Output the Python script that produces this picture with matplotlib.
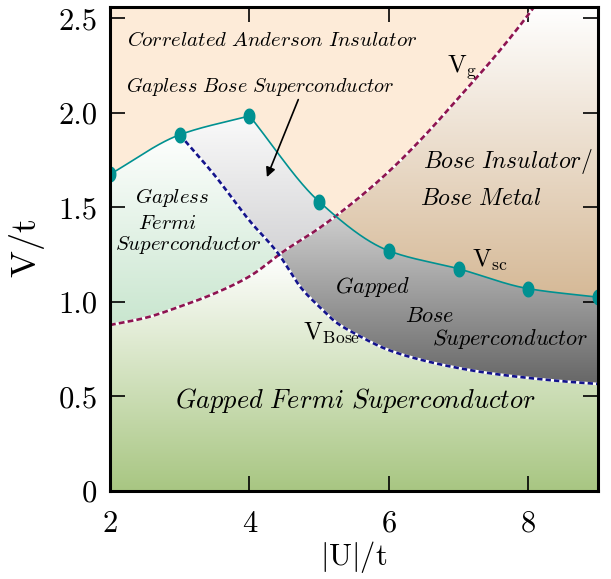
import numpy as np
import matplotlib
matplotlib.use("Agg")
import matplotlib.pyplot as plt
from matplotlib.patches import Polygon
from matplotlib.path import Path

plt.rcParams["mathtext.fontset"] = "cm"
plt.rcParams["font.family"] = ["cmr10", "DejaVu Sans"]
plt.rcParams["axes.unicode_minus"] = False

# ---- data -------------------------------------------------------------
# superconducting boundary V_sc (computed points)
vsc_x = [2, 3, 4, 5, 6, 7, 8, 9]
vsc_y = [1.675, 1.884, 1.984, 1.530, 1.270, 1.175, 1.070, 1.025]

# gap-closing line V_g
vg_x = [2.0, 2.5, 3.0, 3.5, 4.0, 4.5, 5.0, 5.5, 6.0, 6.5, 7.0, 7.5, 8.0, 8.1]
vg_y = [0.878, 0.915, 0.975, 1.045, 1.135, 1.270, 1.390, 1.530, 1.690, 1.875, 2.080, 2.290, 2.520, 2.570]

# Bose line V_Bose
vb_x = [3.0, 3.5, 4.0, 4.4, 4.75, 5.0, 5.25, 5.5, 6.0, 6.5, 7.0, 7.5, 8.0, 8.5, 9.0]
vb_y = [1.884, 1.670, 1.430, 1.262, 1.070, 0.975, 0.890, 0.835, 0.745, 0.690, 0.650, 0.620, 0.598, 0.580, 0.566]

xticks = [2, 4, 6, 8]
yticks = [0, 0.5, 1.0, 1.5, 2.0, 2.5]
yticklabels = ["0", "0.5", "1.0", "1.5", "2.0", "2.5"]

XMIN, XMAX, YMIN, YMAX = 2.0, 9.0, 0.0, 2.56


def pchip(x, y, xn):
    """Shape-preserving piecewise cubic through (x, y), evaluated at xn."""
    x = np.asarray(x, float)
    y = np.asarray(y, float)
    xn = np.asarray(xn, float)
    h = np.diff(x)
    d = np.diff(y) / h
    m = np.zeros_like(y)
    for k in range(1, len(x) - 1):
        if d[k - 1] * d[k] > 0:
            w1 = 2 * h[k] + h[k - 1]
            w2 = h[k] + 2 * h[k - 1]
            m[k] = (w1 + w2) / (w1 / d[k - 1] + w2 / d[k])
    m[0] = d[0]
    m[-1] = d[-1]
    idx = np.clip(np.searchsorted(x, xn) - 1, 0, len(x) - 2)
    t = (xn - x[idx]) / h[idx]
    h00 = 2 * t**3 - 3 * t**2 + 1
    h10 = t**3 - 2 * t**2 + t
    h01 = -2 * t**3 + 3 * t**2
    h11 = t**3 - t**2
    return h00 * y[idx] + h10 * h[idx] * m[idx] + h01 * y[idx + 1] + h11 * h[idx] * m[idx + 1]


def sc_curve(xn):
    """V_sc drawn as two smooth branches meeting at its maximum."""
    k = int(np.argmax(vsc_y))
    left = pchip(vsc_x[:k + 1], vsc_y[:k + 1], xn)
    right = pchip(vsc_x[k:], vsc_y[k:], xn)
    return np.where(xn <= vsc_x[k], left, right)


# ---- smooth boundaries on a common grid ---------------------------------
xs = np.linspace(XMIN, XMAX, 1401)
vsc_s = sc_curve(xs)
vg_s = np.where(xs <= vg_x[-1], pchip(vg_x, vg_y, np.minimum(xs, vg_x[-1])), YMAX + 0.2)
vg_s = np.minimum(vg_s, YMAX + 0.2)
vb_s = np.where(xs >= vb_x[0], pchip(vb_x, vb_y, np.maximum(xs, vb_x[0])), vsc_s)

# ---- figure -----------------------------------------------------------
fig = plt.figure(figsize=(6.11, 5.79), dpi=100)
ax = fig.add_axes([0.180, 0.152, 0.799, 0.836])
ax.set_xlim(XMIN, XMAX)
ax.set_ylim(YMIN, YMAX)
ax.set_facecolor("#fdebd8")


def shade(lower, upper, stops):
    """Fill the band lower<y<upper with a vertical colour gradient."""
    mask = upper > lower + 1e-6
    xm = xs[mask]
    verts = np.concatenate([np.column_stack([xm, upper[mask]]),
                            np.column_stack([xm[::-1], lower[mask][::-1]])])
    poly = Polygon(verts, closed=True, transform=ax.transData,
                   facecolor="none", edgecolor="none")
    ax.add_patch(poly)
    yy = np.linspace(YMAX, YMIN, 400)
    sy = [s[0] for s in stops]
    cols = np.array([matplotlib.colors.to_rgb(s[1]) for s in stops])
    img = np.stack([np.interp(yy, sy, cols[:, c]) for c in range(3)], axis=-1)
    img = img[:, None, :]
    im = ax.imshow(img, extent=[XMIN, XMAX, YMIN, YMAX], aspect="auto",
                   origin="upper", interpolation="bilinear", zorder=0.5)
    im.set_clip_path(poly)


zero = np.zeros_like(xs)
top = np.full_like(xs, YMAX + 0.2)

# Gapped Fermi superconductor
shade(zero, np.minimum(vb_s, vg_s), [(0.0, "#a8c682"), (1.25, "#ffffff")])
# Gapless Fermi superconductor
shade(vg_s, vb_s, [(0.88, "#c9e6cf"), (1.9, "#ffffff")])
# Gapped Bose superconductor
shade(vb_s, np.minimum(vsc_s, vg_s), [(0.56, "#666666"), (1.47, "#cfcfcf")])
# Gapless Bose superconductor
shade(np.maximum(vb_s, vg_s), vsc_s, [(1.25, "#d4d4d6"), (2.0, "#fbfbfb")])
# Bose insulator / Bose metal
shade(vsc_s, np.minimum(vg_s, top), [(1.0, "#d5b895"), (2.56, "#ffffff")])

# ---- boundary lines ---------------------------------------------------
vg_line = pchip(vg_x, vg_y, xs[xs <= vg_x[-1]])
ax.plot(xs[xs <= vg_x[-1]], vg_line, color="white", lw=1.9, zorder=2)
ax.plot(xs[xs <= vg_x[-1]], vg_line, color="#8e1450", lw=1.9,
        dashes=(2.2, 1.2), zorder=2.1)

vb_line = pchip(vb_x, vb_y, xs[xs >= vb_x[0]])
ax.plot(xs[xs >= vb_x[0]], vb_line, color="white", lw=1.9, zorder=2)
ax.plot(xs[xs >= vb_x[0]], vb_line, color="#14148c", lw=1.9,
        dashes=(2.0, 1.2), zorder=2.1)

t = np.linspace(0, 2 * np.pi, 60)
ellipse = Path(np.column_stack([np.cos(t), 1.38 * np.sin(t)]))
ax.plot(xs, vsc_s, color="#009191", lw=1.2, zorder=3)
ax.plot(vsc_x, vsc_y, ls="none", marker=ellipse, ms=10.5,
        color="#009191", zorder=3.1)

# ---- annotations ------------------------------------------------------
def it(s):
    return r"$\mathit{" + s.replace(" ", r"\ ") + "}$"


ax.text(4.33, 2.385, it("Correlated Anderson Insulator"), fontsize=15,
        ha="center", va="center")
ax.text(4.15, 2.14, it("Gapless Bose Superconductor"), fontsize=14.5,
        ha="center", va="center")
ax.annotate("", xy=(4.25, 1.66), xytext=(4.70, 2.07),
            arrowprops=dict(arrowstyle="-|>", color="black", lw=1.2,
                            mutation_scale=14, shrinkA=0, shrinkB=0))

ax.text(6.49, 1.709, it("Bose Insulator/"), fontsize=17, ha="left", va="baseline")
ax.text(6.45, 1.513, it("Bose Metal"), fontsize=17, ha="left", va="baseline")

ax.text(2.89, 1.524, it("Gapless"), fontsize=15, ha="center", va="baseline")
ax.text(2.83, 1.386, it("Fermi"), fontsize=15, ha="center", va="baseline")
ax.text(3.12, 1.275, it("Superconductor"), fontsize=15, ha="center", va="baseline")

ax.text(5.23, 1.048, it("Gapped"), fontsize=16, ha="left", va="baseline")
ax.text(6.23, 0.894, it("Bose"), fontsize=16, ha="left", va="baseline")
ax.text(6.62, 0.772, it("Superconductor"), fontsize=16, ha="left", va="baseline")

ax.text(2.93, 0.439, it("Gapped Fermi Superconductor"), fontsize=19,
        ha="left", va="baseline")

ax.text(6.83, 2.217, r"$\mathrm{V}_{\mathrm{g}}$", fontsize=18, ha="left", va="baseline")
ax.text(7.19, 1.185, r"$\mathrm{V}_{\mathrm{sc}}$", fontsize=18, ha="left", va="baseline")
ax.text(4.77, 0.80, r"$\mathrm{V}_{\mathrm{Bose}}$", fontsize=18, ha="left", va="baseline")

# ---- axes styling -----------------------------------------------------
ax.set_xticks(xticks)
ax.set_yticks(yticks)
ax.set_yticklabels(yticklabels)
ax.tick_params(direction="in", length=11, width=1.2, top=True, right=True,
               labelsize=22)
ax.tick_params(axis="x", pad=14)
ax.tick_params(axis="y", pad=9)
for sp in ax.spines.values():
    sp.set_linewidth(2.2)
    sp.set_zorder(5)

ax.set_xlabel(r"$|\mathrm{U}|/\mathrm{t}$", fontsize=22, labelpad=1)
ax.set_ylabel(r"$\mathrm{V/t}$", fontsize=26, labelpad=8)

fig.savefig("out.png", dpi=100)
